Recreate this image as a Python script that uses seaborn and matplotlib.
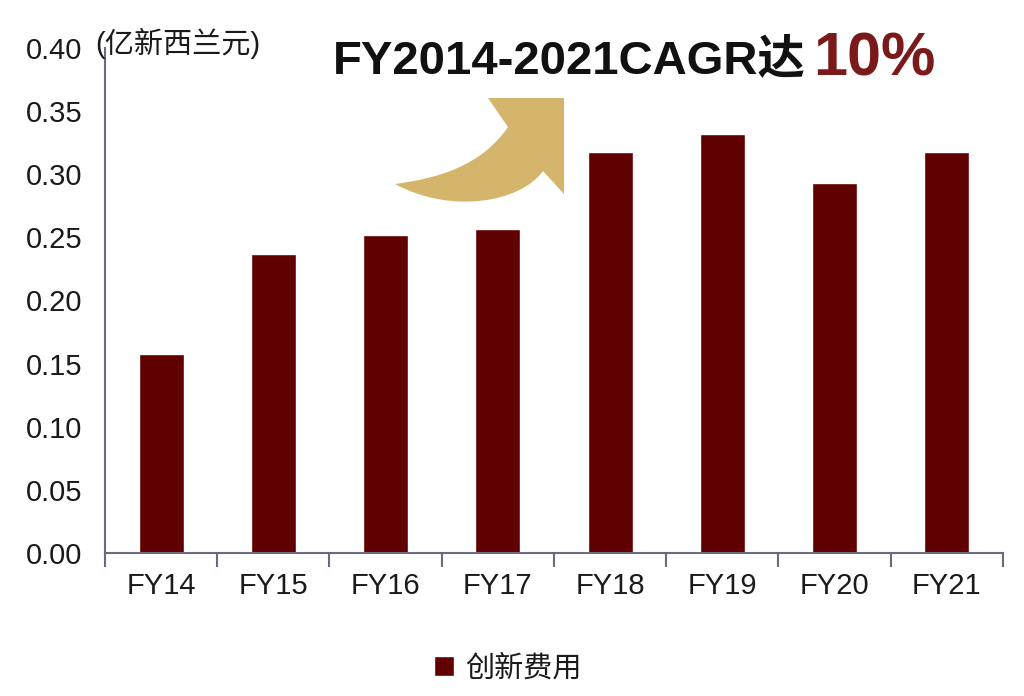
import numpy as np
import pandas as pd
import matplotlib
matplotlib.use("Agg")
import matplotlib.pyplot as plt
from matplotlib.path import Path
from matplotlib.patches import PathPatch
import seaborn as sns

# data
years = ["FY14", "FY15", "FY16", "FY17", "FY18", "FY19", "FY20", "FY21"]
spend = [0.158, 0.237, 0.252, 0.257, 0.318, 0.332, 0.293, 0.318]
series_name = "创新费用"
y_ticks = [0.00, 0.05, 0.10, 0.15, 0.20, 0.25, 0.30, 0.35, 0.40]
unit_label = "(亿新西兰元)"
headline = "FY2014-2021CAGR达"
headline_value = "10%"

df = pd.DataFrame({"year": years, "spend": spend, "series": series_name})

bar_color = "#600000"
spine_color = "#6b6b80"
gold = "#D5B56C"
text_color = "#1a1a1a"

sns.set_style("white")
plt.rcParams["font.family"] = ["Liberation Sans", "Noto Sans CJK SC", "DejaVu Sans"]
plt.rcParams["text.color"] = text_color
plt.rcParams["xtick.labelcolor"] = text_color
plt.rcParams["ytick.labelcolor"] = text_color

fig = plt.figure(figsize=(10.24, 6.96), dpi=100)
ax = fig.add_axes([0.1025, 0.2055, 0.877, 0.7255])

sns.barplot(data=df, x="year", y="spend", hue="series", palette=[bar_color],
            width=0.4, saturation=1, ax=ax)

ax.set_xlim(-0.5, 7.5)
ax.set_ylim(0, 0.40)
ax.set_yticks(y_ticks)
ax.set_yticklabels([f"{v:.2f}" for v in y_ticks])
ax.set_xlabel("")
ax.set_ylabel("")

ax.tick_params(axis="y", length=0, pad=16, labelsize=21)
ax.tick_params(axis="x", which="major", length=0, pad=14, labelsize=21)
# category separators below the axis
ax.set_xticks(np.arange(-0.5, len(years), 1), minor=True)
ax.tick_params(axis="x", which="minor", bottom=True, length=10, width=1.5,
               color=spine_color, direction="out")

for side in ["top", "right"]:
    ax.spines[side].set_visible(False)
for side in ["left", "bottom"]:
    ax.spines[side].set_color(spine_color)
    ax.spines[side].set_linewidth(1.5)

# legend at the bottom centre
leg = ax.get_legend()
handles = leg.legend_handles
labels = [t.get_text() for t in leg.get_texts()]
leg.remove()
fig.legend(handles, labels, loc="center", bbox_to_anchor=(0.496, 0.04),
           frameon=False, fontsize=21, handlelength=0.7, handleheight=0.7,
           handletextpad=0.4)

# texts
fig.text(0.093, 0.937, unit_label, fontsize=21, ha="left", va="center")
fig.text(0.325, 0.895, headline, fontsize=34, fontweight="bold",
         color="#111111", ha="left", va="baseline")
fig.text(0.794, 0.892, headline_value, fontsize=44, fontweight="bold",
         color="#7B1A1A", ha="left", va="baseline")


# curved gold arrow
def px(x, y):
    return (x / 1024, 1 - y / 696)


verts = [px(395, 184), px(440, 178), px(482, 165), px(508, 127),
         px(488, 98), px(564, 98), px(564, 194), px(543, 171),
         px(520, 203), px(450, 214), px(395, 184)]
codes = [Path.MOVETO, Path.CURVE4, Path.CURVE4, Path.CURVE4,
         Path.LINETO, Path.LINETO, Path.LINETO, Path.LINETO,
         Path.CURVE4, Path.CURVE4, Path.CURVE4]
fig.add_artist(PathPatch(Path(verts, codes), transform=fig.transFigure,
                         facecolor=gold, edgecolor="none"))

fig.savefig("out.png", dpi=100)
